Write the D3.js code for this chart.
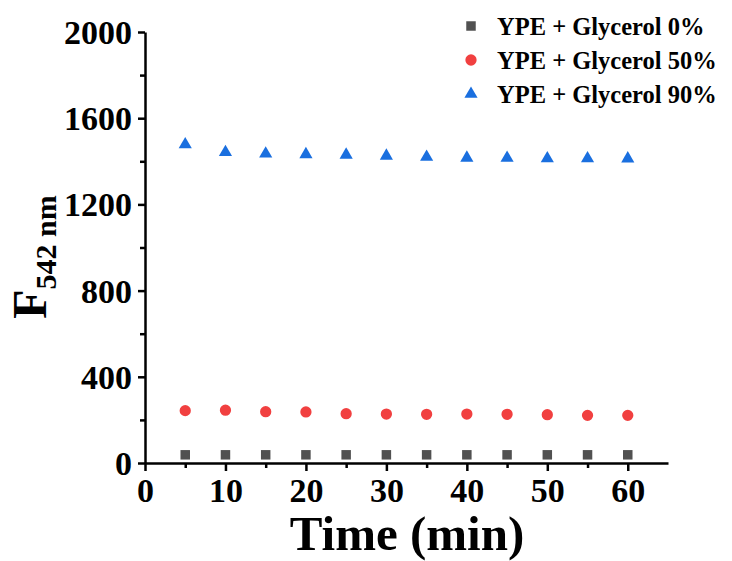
<!DOCTYPE html>
<html>
<head>
<meta charset="utf-8">
<script src="https://cdn.jsdelivr.net/npm/d3@7"></script>
<style>
  body { margin: 0; background: #fff; }
  svg text { font-family: "Liberation Serif", "Times New Roman", serif; font-weight: bold; fill: #000; }
</style>
</head>
<body>
<svg id="chart" width="732" height="561"></svg>
<script>
// data
var times = [5, 10, 15, 20, 25, 30, 35, 40, 45, 50, 55, 60];
var glycerol0 = [38, 38, 38, 38, 38, 38, 38, 38, 38, 38, 38, 38];
var glycerol50 = [243, 245, 238, 237, 229, 227, 226, 227, 226, 224, 221, 221];
var glycerol90 = [1478, 1442, 1435, 1432, 1430, 1425, 1420, 1416, 1415, 1413, 1413, 1412];
var seriesNames = ["YPE + Glycerol 0%", "YPE + Glycerol 50%", "YPE + Glycerol 90%"];
var xTicks = [0, 10, 20, 30, 40, 50, 60];
var yTicks = [0, 400, 800, 1200, 1600, 2000];

var svg = d3.select("#chart");
var plotLeft = 145, plotRight = 668, plotTop = 32, plotBottom = 463;

var x = d3.scaleLinear().domain([0, 65]).range([plotLeft, plotRight]);
var y = d3.scaleLinear().domain([0, 2000]).range([plotBottom, plotTop]);

// minor ticks first, then major axes on top
svg.append("g")
    .attr("transform", "translate(0," + plotBottom + ")")
    .call(d3.axisBottom(x).tickValues(d3.range(5, 65, 10)).tickSize(5).tickFormat(""))
    .call(g => g.select(".domain").remove())
    .selectAll("line").attr("stroke-width", 2.5);

svg.append("g")
    .attr("transform", "translate(" + plotLeft + ",0)")
    .call(d3.axisLeft(y).tickValues(d3.range(200, 2000, 400)).tickSize(5).tickFormat(""))
    .call(g => g.select(".domain").remove())
    .selectAll("line").attr("stroke-width", 2.5);

var xAxis = svg.append("g")
    .attr("transform", "translate(0," + plotBottom + ")")
    .call(d3.axisBottom(x).tickValues(xTicks).tickSize(8).tickSizeOuter(0).tickPadding(6).tickFormat(d3.format("d")));
xAxis.select(".domain").attr("stroke-width", 2.5);
xAxis.selectAll("line").attr("stroke-width", 2.5);
xAxis.selectAll("text").style("font-size", "34px").attr("dy", "0.74em");

var yAxis = svg.append("g")
    .attr("transform", "translate(" + plotLeft + ",0)")
    .call(d3.axisLeft(y).tickValues(yTicks).tickSize(7).tickSizeOuter(0).tickPadding(6).tickFormat(d3.format("d")));
yAxis.select(".domain").attr("stroke-width", 2.5);
yAxis.selectAll("line").attr("stroke-width", 2.5);
yAxis.selectAll("text").style("font-size", "34px").attr("dy", "0.34em");

// axis titles
svg.append("text")
    .attr("x", 407).attr("y", 550)
    .attr("text-anchor", "middle")
    .style("font-size", "49px")
    .text("Time (min)");

var yTitle = svg.append("text")
    .attr("transform", "translate(46,257) rotate(-90)")
    .attr("text-anchor", "middle");
yTitle.append("tspan").style("font-size", "48px").text("F");
yTitle.append("tspan").style("font-size", "30px").attr("dy", 10).text("542 nm");

// markers
var sq = d3.symbol().type(d3.symbolSquare).size(90);
var ci = d3.symbol().type(d3.symbolCircle).size(100);
var tri = d3.symbol().type(d3.symbolTriangle).size(75);

var series = [
    {name: seriesNames[0], values: glycerol0, color: "#515151", sym: sq},
    {name: seriesNames[1], values: glycerol50, color: "#F14040", sym: ci},
    {name: seriesNames[2], values: glycerol90, color: "#1A6FDF", sym: tri}
];

series.forEach(function (s) {
    svg.append("g").selectAll("path")
        .data(times)
        .enter().append("path")
        .attr("d", s.sym)
        .attr("fill", s.color)
        .attr("transform", function (t, i) {
            return "translate(" + x(t) + "," + y(s.values[i]) + ")";
        });
});

// legend
var legend = svg.append("g").selectAll("g")
    .data(series)
    .enter().append("g")
    .attr("transform", function (d, i) { return "translate(471," + (26 + i * 34) + ")"; });

legend.append("path")
    .attr("d", d => d.sym())
    .attr("fill", d => d.color);

legend.append("text")
    .attr("x", 26).attr("y", 8.5)
    .style("font-size", "24.5px")
    .text(d => d.name);
</script>
</body>
</html>
